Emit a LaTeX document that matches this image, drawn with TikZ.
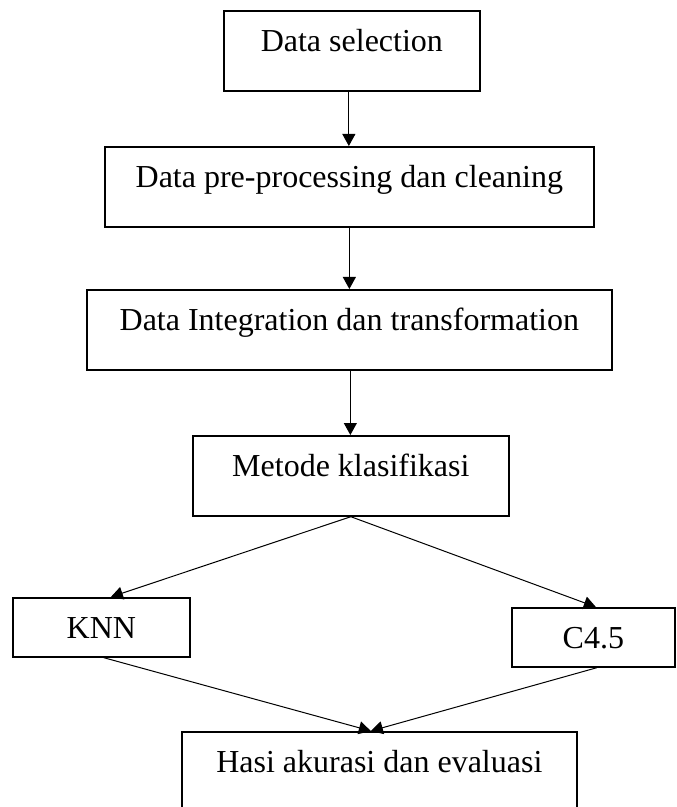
\documentclass[tikz,border=0pt]{standalone}
\usepackage{fontspec}
\setmainfont{Liberation Serif}
\usetikzlibrary{arrows.meta, calc, positioning}
\tikzset{
    kotak/.style={draw, line width=0.85pt, anchor=north west, inner xsep=0pt, inner ysep=0pt,
        text height=20.5pt, text depth=19.5pt, font=\fontsize{16}{19}\selectfont},
    kotakkecil/.style={kotak, text depth=9pt},
    panah/.style={-{Triangle[length=6pt,width=6.5pt]}, line width=0.5pt}
}

\begin{document}
\begin{tikzpicture}[x=0.5pt, y=-0.5pt]
    \useasboundingbox (0,0) rectangle (676,807);
    \clip (0,0) rectangle (676,807);
    % alur utama
    \node[kotak, minimum width=128pt] (sel) at (223,10) {Data selection};
    \node[kotak, minimum width=244.5pt] (prep) at (104,146) {Data pre-processing dan cleaning};
    \node[kotak, minimum width=262.5pt] (integ) at (86,289) {Data Integration dan transformation};
    \node[kotak, minimum width=158pt] (metode) at (192,435) {Metode klasifikasi};
    % dua metode
    \node[kotakkecil, minimum width=88.5pt] (knn) at (12,597) {KNN};
    \node[kotakkecil, minimum width=81.5pt] (c45) at (511,607) {C4.5};
    \node[kotak, minimum width=197.5pt, text depth=30pt] (hasil) at (181,731) {Hasi akurasi dan evaluasi};
    \coordinate (temu) at ([xshift=-4.25pt]hasil.north);
    % panah
    \draw[panah] ([xshift=-1.5pt]sel.south) -- ([xshift=-1.5pt]sel.south |- prep.north);
    \draw[panah] (prep.south) -- (prep.south |- integ.north);
    \draw[panah] ([xshift=0.5pt]integ.south) -- ([xshift=0.5pt]integ.south |- metode.north);
    \draw[panah] (metode.south) -- ([xshift=4.75pt]knn.north);
    \draw[panah] (metode.south) -- ([xshift=1.25pt]c45.north);
    \draw[panah] ([xshift=1.25pt]knn.south) -- (temu);
    \draw[panah] ([xshift=1.75pt]c45.south) -- (temu);
\end{tikzpicture}
\end{document}
